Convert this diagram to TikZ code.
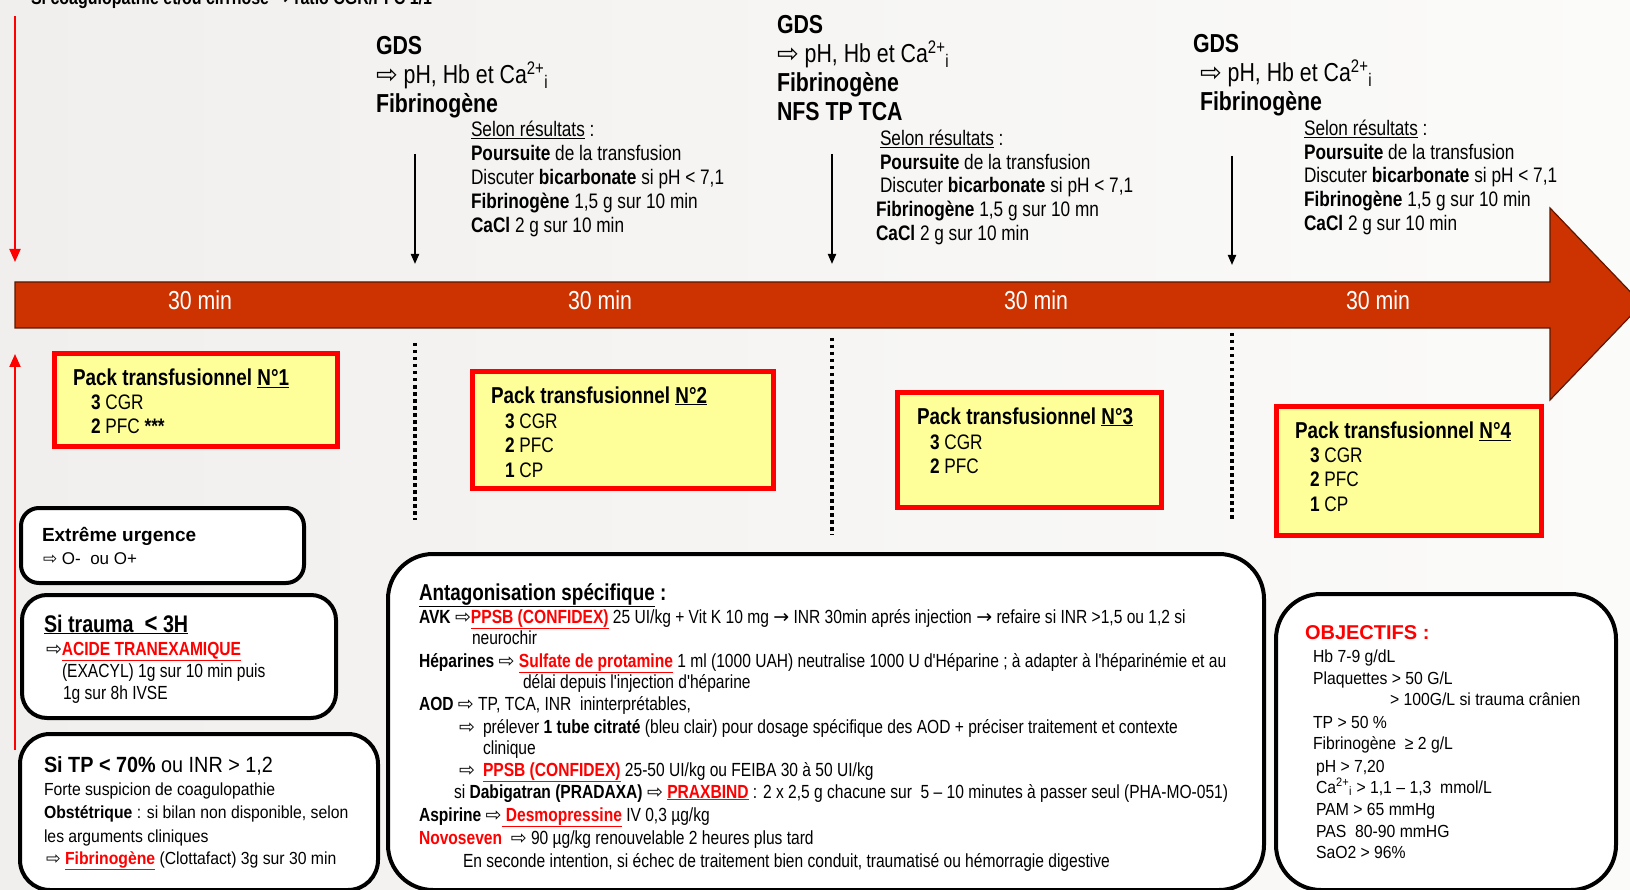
\documentclass[tikz,border=0pt]{standalone}
\usepackage{fontspec}
\setmainfont{Liberation Sans}
\newfontfamily\nar[FakeStretch=0.82]{Liberation Sans}
\newfontfamily\med[FakeStretch=0.9]{Liberation Sans}
\newfontfamily\wid{Liberation Sans}
\newfontfamily\symf{DejaVu Sans}
\usetikzlibrary{arrows.meta}
\newcommand\fsz[2]{\fontsize{#1pt}{#2pt}\selectfont}
\newcommand\rarr{{\symf\char"21E8}}
\newcommand\rto{{\symf\char"2192}}
\newcommand\redul[1]{\textcolor{redt}{\underline{#1}}}
\newcommand\cai{Ca\textsuperscript{2+}\textsubscript{i}}
\newcommand\Tl[4][]{\node[txt,#1] (#2) at (#3) {#4};}
\definecolor{bgl}{HTML}{F1EFED}
\definecolor{bgr}{HTML}{FBFBFA}
\definecolor{barc}{HTML}{CC3300}
\definecolor{packfill}{HTML}{FFFF99}
\definecolor{redt}{HTML}{FF0000}
\tikzset{
  txt/.style={anchor=base west, inner sep=0pt, outer sep=0pt},
  gds/.style={font=\nar\fsz{26}{29}},
  sel/.style={font=\nar\fsz{21}{24}},
  mintxt/.style={anchor=base, inner sep=0pt, font=\nar\fsz{26}{29}, text=white},
  ptitle/.style={font=\nar\bfseries\fsz{23}{26}},
  pitem/.style={font=\nar\fsz{21}{24}},
  body/.style={font=\nar\fsz{19}{22}},
  mbody/.style={font=\med\fsz{17.5}{22}},
  pack/.style={draw=redt, line width=5pt, fill=packfill, inner sep=0pt},
  rbox/.style={draw=black, line width=4pt, fill=white, inner sep=0pt},
  redarrow/.style={draw=redt, line width=2pt, -{Triangle[length=13pt,width=11pt]}},
  blkarrow/.style={draw=black, line width=2pt, -{Triangle[length=10pt,width=8pt]}},
  dotl/.style={draw=black, line width=3.5pt, dash pattern=on 3.5pt off 3.5pt},
}
\begin{document}
\begin{tikzpicture}[x=1pt,y=-1pt]
\useasboundingbox (0,0) rectangle (1630,890);
\clip (0,0) rectangle (1630,890);
\shade[left color=bgl, right color=bgr] (0,0) rectangle (1630,890);

% top text (cut by the upper edge, as in the reference)
\Tl[font=\nar\bfseries\fsz{19.5}{22}]{top}{31,5}{Si coagulopathie et/ou cirrhose \rto{} ratio CGR/PFC 1/1}

% red side arrows
\coordinate (ra1s) at (15,16);
\coordinate (ra1e) at (15,262);
\coordinate (ra2s) at (15,750);
\coordinate (ra2e) at (15,354);
\draw[redarrow] (ra1s) -- (ra1e);
\draw[redarrow] (ra2s) -- (ra2e);

% timeline arrow
\filldraw[fill=barc, draw=black!55!barc, line width=1.2pt]
  (15,282) -- (1550,282) -- (1550,208) -- (1642,304) -- (1550,400) -- (1550,328) -- (15,328) -- cycle;
\node[mintxt] (m1) at (200,310) {30 min};
\node[mintxt] (m2) at (600,310) {30 min};
\node[mintxt] (m3) at (1036,310) {30 min};
\node[mintxt] (m4) at (1378,310) {30 min};

% black down arrows
\coordinate (k1s) at (415,154); \coordinate (k1e) at (415,264);
\coordinate (k2s) at (832,154); \coordinate (k2e) at (832,264);
\coordinate (k3s) at (1232,156); \coordinate (k3e) at (1232,265);
\draw[blkarrow] (k1s) -- (k1e);
\draw[blkarrow] (k2s) -- (k2e);
\draw[blkarrow] (k3s) -- (k3e);

% dotted separators
\coordinate (d1s) at (415,343); \coordinate (d1e) at (415,520);
\coordinate (d2s) at (832,338); \coordinate (d2e) at (832,535);
\coordinate (d3s) at (1232,333); \coordinate (d3e) at (1232,520);
\draw[dotl] (d1s) -- (d1e);
\draw[dotl] (d2s) -- (d2e);
\draw[dotl] (d3s) -- (d3e);

% GDS block 1
\Tl[gds]{g1a}{376,54.5}{\textbf{GDS}}
\Tl[gds]{g1b}{376,83.5}{\rarr\ pH, Hb et \cai}
\Tl[gds]{g1c}{376,112.5}{\textbf{Fibrinogène}}
\Tl[sel]{s1a}{471,137}{\underline{Selon résultats} :}
\Tl[sel]{s1b}{471,161}{\textbf{Poursuite} de la transfusion}
\Tl[sel]{s1c}{471,185}{Discuter \textbf{bicarbonate} si pH < 7,1}
\Tl[sel]{s1d}{471,209}{\textbf{Fibrinogène} 1,5 g sur 10 min}
\Tl[sel]{s1e}{471,233}{\textbf{CaCl} 2 g sur 10 min}

% GDS block 2
\Tl[gds]{g2a}{777,34}{\textbf{GDS}}
\Tl[gds]{g2b}{777,63}{\rarr\ pH, Hb et \cai}
\Tl[gds]{g2c}{777,92}{\textbf{Fibrinogène}}
\Tl[gds]{g2d}{777,121}{\textbf{NFS TP TCA}}
\Tl[sel]{s2a}{880,145.5}{\underline{Selon résultats} :}
\Tl[sel]{s2b}{880,169.5}{\textbf{Poursuite} de la transfusion}
\Tl[sel]{s2c}{880,193}{Discuter \textbf{bicarbonate} si pH < 7,1}
\Tl[sel]{s2d}{876,217}{\textbf{Fibrinogène} 1,5 g sur 10 mn}
\Tl[sel]{s2e}{876,241}{\textbf{CaCl} 2 g sur 10 min}

% GDS block 3
\Tl[gds]{g3a}{1193,52.5}{\textbf{GDS}}
\Tl[gds]{g3b}{1200,81.5}{\rarr\ pH, Hb et \cai}
\Tl[gds]{g3c}{1200,110.5}{\textbf{Fibrinogène}}
\Tl[sel]{s3a}{1304,136}{\underline{Selon résultats} :}
\Tl[sel]{s3b}{1304,159.5}{\textbf{Poursuite} de la transfusion}
\Tl[sel]{s3c}{1304,183}{Discuter \textbf{bicarbonate} si pH < 7,1}
\Tl[sel]{s3d}{1304,207}{\textbf{Fibrinogène} 1,5 g sur 10 min}
\Tl[sel]{s3e}{1304,231}{\textbf{CaCl} 2 g sur 10 min}

% packs
\node[pack, minimum width=283pt, minimum height=93pt] (p1) at (196,400) {};
\node[pack, minimum width=301pt, minimum height=117pt] (p2) at (623,430) {};
\node[pack, minimum width=264pt, minimum height=115pt] (p3) at (1029.5,450) {};
\node[pack, minimum width=265pt, minimum height=129pt] (p4) at (1409,471) {};
\Tl[ptitle]{p1t}{73,385.5}{Pack transfusionnel \underline{N°1}}
\Tl[pitem]{p1a}{91,409.5}{\textbf{3} CGR}
\Tl[pitem]{p1b}{91,433.5}{\textbf{2} PFC \textbf{***}}
\Tl[ptitle]{p2t}{491,403}{Pack transfusionnel \underline{N°2}}
\Tl[pitem]{p2a}{505,428}{\textbf{3} CGR}
\Tl[pitem]{p2b}{505,452}{\textbf{2} PFC}
\Tl[pitem]{p2c}{505,477}{\textbf{1} CP}
\Tl[ptitle]{p3t}{917,424}{Pack transfusionnel \underline{N°3}}
\Tl[pitem]{p3a}{930,449}{\textbf{3} CGR}
\Tl[pitem]{p3b}{930,473}{\textbf{2} PFC}
\Tl[ptitle]{p4t}{1295,438.5}{Pack transfusionnel \underline{N°4}}
\Tl[pitem]{p4a}{1310,462.5}{\textbf{3} CGR}
\Tl[pitem]{p4b}{1310,486.5}{\textbf{2} PFC}
\Tl[pitem]{p4c}{1310,511}{\textbf{1} CP}

% rounded boxes
\node[rbox, rounded corners=18pt, minimum width=283pt, minimum height=75pt] (bE) at (162.5,545.5) {};
\node[rbox, rounded corners=25pt, minimum width=314pt, minimum height=123pt] (bT) at (179,656.5) {};
\node[rbox, rounded corners=30pt, minimum width=358pt, minimum height=156pt] (bP) at (199,812) {};
\node[rbox, rounded corners=45pt, minimum width=876pt, minimum height=336pt] (bA) at (826,722) {};
\node[rbox, rounded corners=45pt, minimum width=340pt, minimum height=296pt] (bO) at (1446,742) {};

% Extreme urgence
\Tl[font=\wid\bfseries\fsz{19}{21}]{e1}{42,541.5}{Extrême urgence}
\Tl[font=\wid\fsz{17}{21}]{e2}{43,564}{\rarr\ O-\ \ ou O+}

% Si trauma
\Tl[font=\nar\bfseries\fsz{24}{26}]{t1}{44,632}{\underline{Si trauma\ \ {\fsz{27}{26}<}\ 3H}}
\Tl[body]{t2}{46,655}{\rarr\redul{\textbf{ACIDE TRANEXAMIQUE}}}
\Tl[body]{t3}{62,677}{(EXACYL) 1g sur 10 min puis}
\Tl[body]{t4}{63,699}{1g sur 8h IVSE}

% Si TP
\Tl[font=\med\fsz{22}{24}]{q1}{44,772}{\textbf{Si TP < 70\%} ou INR > 1,2}
\Tl[mbody]{q2}{44,795}{Forte suspicion de coagulopathie}
\Tl[mbody]{q3}{44,818}{\textbf{Obstétrique} : si bilan non disponible, selon}
\Tl[mbody]{q4}{44,842}{les arguments cliniques}
\Tl[mbody]{q5}{46,864}{\rarr\ \redul{\textbf{Fibrinogène}} (Clottafact) 3g sur 30 min}

% Antagonisation
\Tl[font=\nar\bfseries\fsz{23}{26}]{a0}{419,600}{\underline{Antagonisation spécifique} :}
\Tl[body]{a1}{419,623}{\textbf{AVK} \rarr\redul{\textbf{PPSB (CONFIDEX)}} 25 UI/kg + Vit K 10 mg \rto{} INR 30min aprés injection \rto{} refaire si INR >1,5 ou 1,2 si}
\Tl[body]{a2}{472,644}{neurochir}
\Tl[body]{a3}{419,667}{\textbf{Héparines} \rarr\ \redul{\textbf{Sulfate de protamine}} 1 ml (1000 UAH) neutralise 1000 U d'Héparine ; à adapter à l'héparinémie et au}
\Tl[body]{a4}{523,688}{délai depuis l'injection d'héparine}
\Tl[body]{a5}{419,710}{\textbf{AOD} \rarr\ TP, TCA, INR\ \ ininterprétables,}
\Tl[body]{a6r}{459,733}{\rarr}
\Tl[body]{a6}{483,733}{prélever \textbf{1 tube citraté} (bleu clair) pour dosage spécifique des AOD + préciser traitement et contexte}
\Tl[body]{a7}{483,754}{clinique}
\Tl[body]{a8r}{459,776}{\rarr}
\Tl[body]{a8}{483,776}{\redul{\textbf{PPSB (CONFIDEX)}} 25-50 UI/kg ou FEIBA 30 à 50 UI/kg}
\Tl[body]{a9}{454,798}{si \textbf{Dabigatran (PRADAXA)} \rarr\ \redul{\textbf{PRAXBIND}} : 2 x 2,5 g chacune sur\ \ 5 – 10 minutes à passer seul (PHA-MO-051)}
\Tl[body]{a10}{419,821}{\textbf{Aspirine} \rarr\redul{\ \textbf{Desmopressine}} IV 0,3 µg/kg}
\Tl[body]{a11}{419,844}{\textcolor{redt}{\textbf{Novoseven}}\ \ \rarr\ 90 µg/kg renouvelable 2 heures plus tard}
\Tl[body]{a12}{463,867}{En seconde intention, si échec de traitement bien conduit, traumatisé ou hémorragie digestive}

% Objectifs
\Tl[font=\wid\bfseries\fsz{20}{22}, text=redt]{o0}{1305,639}{OBJECTIFS :}
\Tl[mbody]{o1}{1313,662}{Hb 7-9 g/dL}
\Tl[mbody]{o2}{1313,684}{Plaquettes > 50 G/L}
\Tl[mbody]{o3}{1390,705}{> 100G/L si trauma crânien}
\Tl[mbody]{o4}{1313,728}{TP > 50 \%}
\Tl[mbody]{o5}{1313,749}{Fibrinogène\ \ ≥ 2 g/L}
\Tl[mbody]{o6}{1316,772}{pH > 7,20}
\Tl[mbody]{o7}{1316,793}{\cai{} > 1,1 – 1,3\ \ mmol/L}
\Tl[mbody]{o8}{1316,815}{PAM > 65 mmHg}
\Tl[mbody]{o9}{1316,837}{PAS\ \ 80-90 mmHG}
\Tl[mbody]{o10}{1316,858}{SaO2 > 96\%}
\end{tikzpicture}
\end{document}
